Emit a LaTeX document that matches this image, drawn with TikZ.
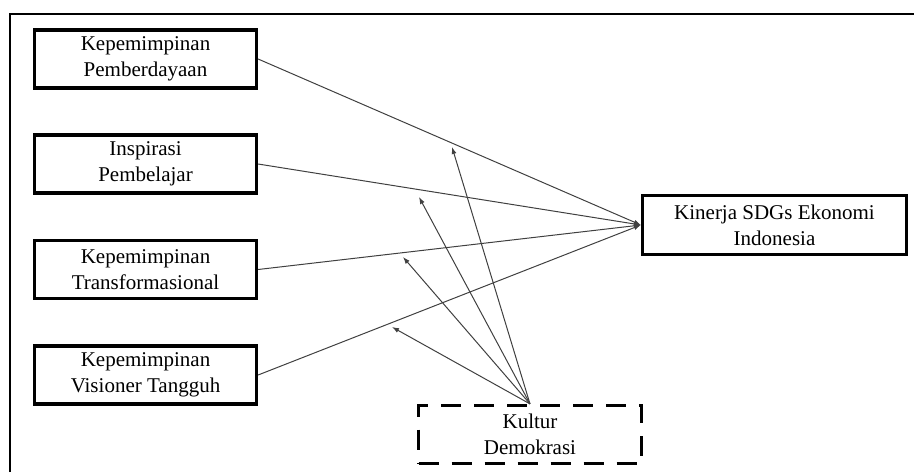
\documentclass[tikz,border=0pt]{standalone}
\usepackage{fontspec}
\setmainfont{Liberation Serif}
\usetikzlibrary{arrows.meta}
\begin{document}
\begin{tikzpicture}[x=1pt,y=-1pt,
  varbox/.style={draw=black,line width=3.2pt,inner sep=0pt,align=center,
    font=\fontsize{21}{26}\selectfont,text=black},
  modbox/.style={varbox,dash pattern=on 20pt off 13pt},
  conn/.style={draw=black!75,line width=1pt,-{Latex[length=7pt,width=5pt]}}]
\useasboundingbox (0,0) rectangle (914,472);
\draw[line width=2pt] (10,472) -- (10,14) -- (914,14);
\node[varbox,minimum width=222pt,minimum height=58pt] (a) at (145.5,59) {Kepemimpinan\\Pemberdayaan};
\node[varbox,minimum width=222pt,minimum height=58pt] (b) at (145.5,164) {Inspirasi\\Pembelajar};
\node[varbox,minimum width=222pt,minimum height=58pt] (c) at (145.5,269.5) {Kepemimpinan\\Transformasional};
\node[varbox,minimum width=222pt,minimum height=58pt] (d) at (145.5,375) {Kepemimpinan\\Visioner Tangguh};
\node[varbox,minimum width=264pt,minimum height=59pt] (y) at (774.5,225) {Kinerja SDGs Ekonomi\\Indonesia};
\node[modbox,minimum width=223pt,minimum height=58pt] (k) at (530,434.5) {Kultur\\Demokrasi};
\coordinate (m1) at (452,147);
\coordinate (m2) at (419,197);
\coordinate (m3) at (403,257);
\coordinate (m4) at (392,327);
\foreach \s in {a,b,c,d} \draw[conn] (\s.east) -- (y.west);
\foreach \m in {m1,m2,m3,m4} \draw[conn] (k.north) -- (\m);
\end{tikzpicture}
\end{document}
